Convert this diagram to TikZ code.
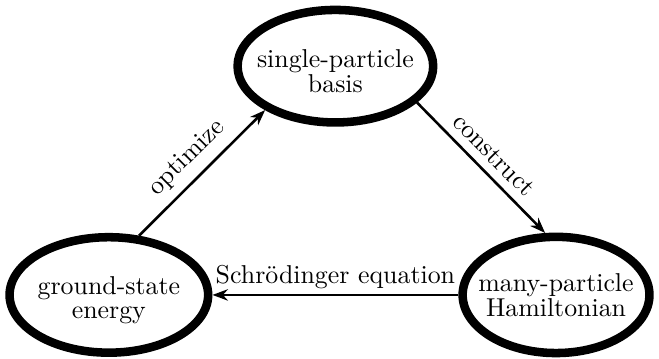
\documentclass[tikz,border=0pt]{standalone}
\usetikzlibrary{arrows.meta,shapes.geometric}

\begin{document}
\begin{tikzpicture}[>={Stealth[length=6pt,width=4.4pt]},
  stage/.style={draw,ellipse,line width=3.3pt,inner sep=0pt},
  caption/.style={align=center,font=\fontsize{10}{9.5}\selectfont},
  flow/.style={->,line width=1pt}]
  \useasboundingbox (0,0) rectangle (8.96,4.87);

  % the three stages of the cycle
  \node[stage,minimum width=2.66cm,minimum height=1.53cm] (basis) at (4.56,3.97) {};
  \node[stage,minimum width=2.70cm,minimum height=1.57cm] (energy) at (1.48,0.86) {};
  \node[stage,minimum width=2.54cm,minimum height=1.58cm] (ham) at (7.56,0.86) {};

  \node[caption] (basistext) at ([yshift=-2pt]basis) {single-particle\\basis};
  \node[caption] (energytext) at ([yshift=-2pt]energy) {ground-state\\energy};
  \node[caption] (hamtext) at (ham) {many-particle\\Hamiltonian};

  % connectors
  \draw[flow] (energy.63) -- node[above,sloped] {optimize} (basis.212);
  \draw[flow] (basis.-24) -- node[above,sloped] {construct} (ham.100);
  \draw[flow] (ham) -- node[above,inner sep=2pt] {Schr\"odinger equation} (energy);
\end{tikzpicture}
\end{document}
